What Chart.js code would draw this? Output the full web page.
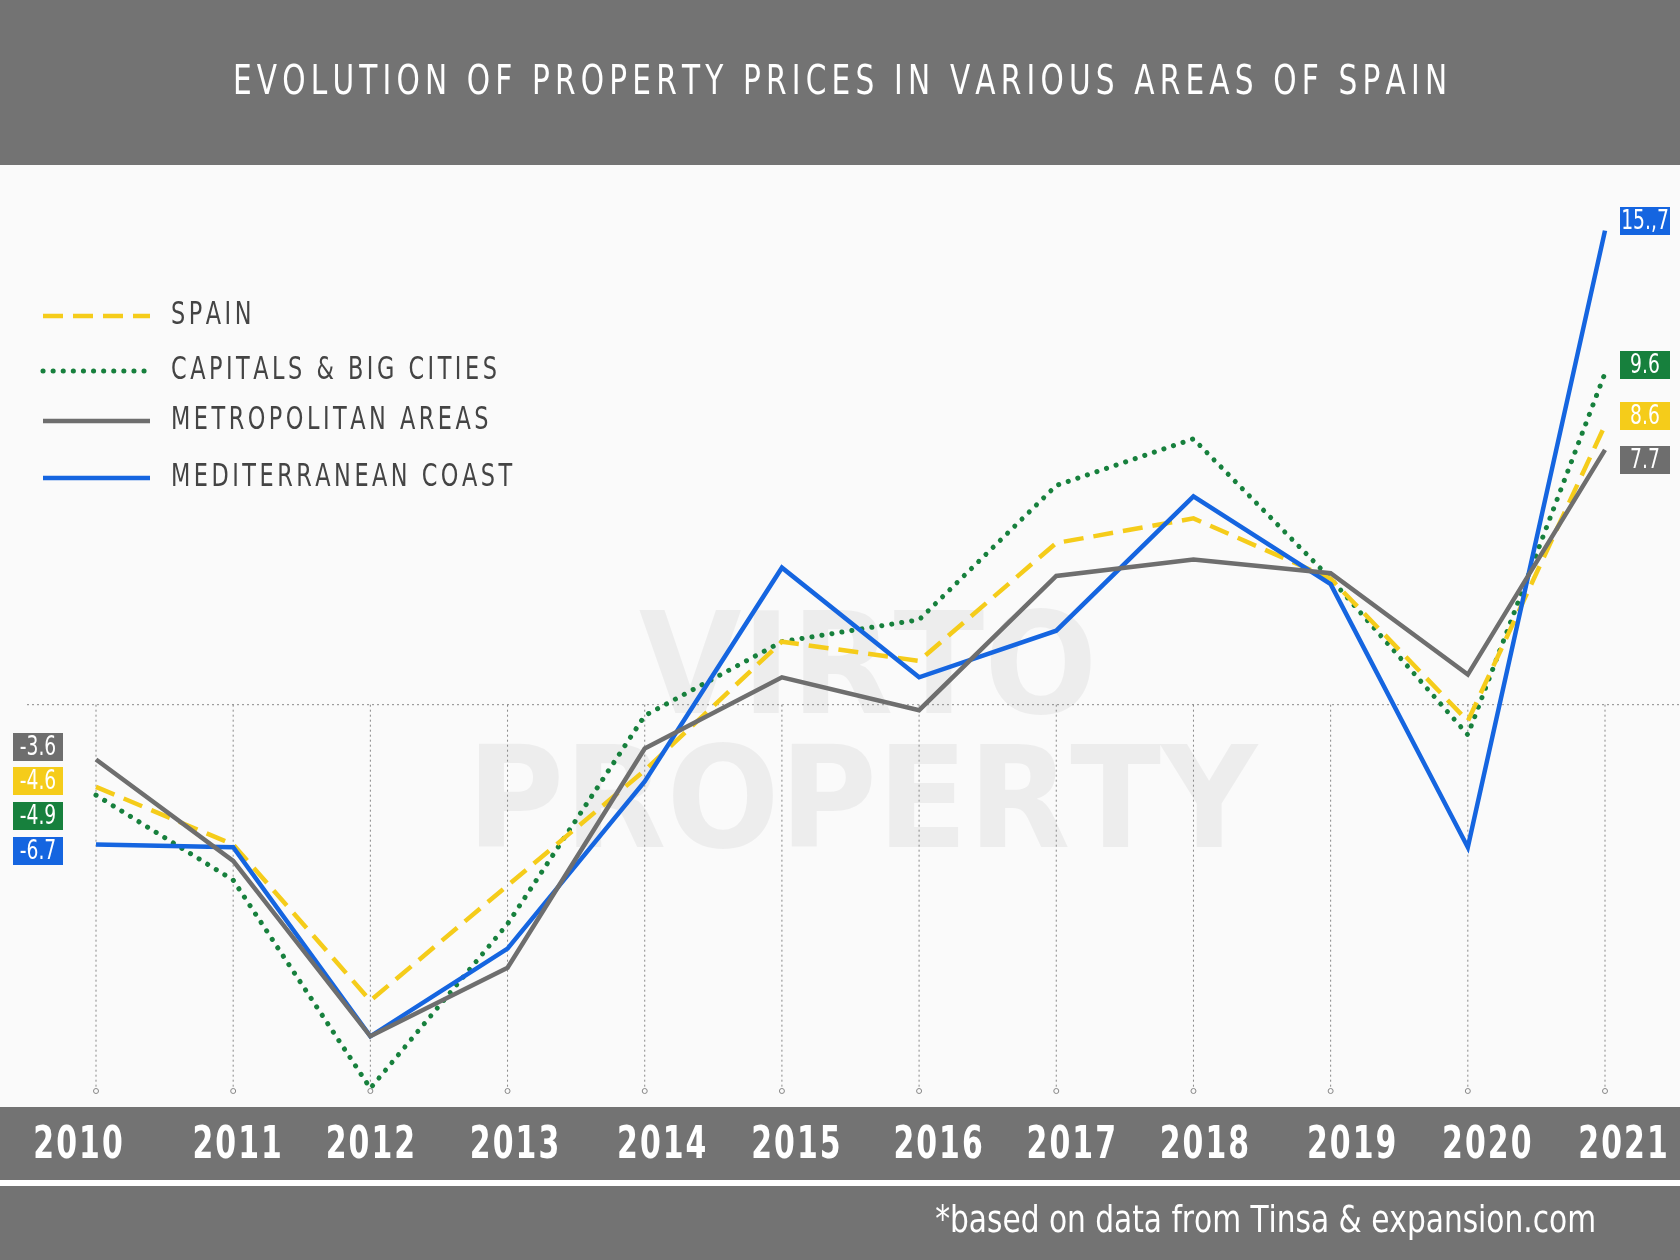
<!DOCTYPE html>
<html><head><meta charset="utf-8">
<script src="https://cdn.jsdelivr.net/npm/chart.js@4"></script>
<style>html,body{margin:0;padding:0;background:#fff}canvas{display:block}</style>
</head><body>
<div style="width:1680px;height:1260px;position:relative"><canvas id="c" width="1680" height="1260"></canvas></div>
<script>
const years = ['2010','2011','2012','2013','2014','2015','2016','2017','2018','2019','2020','2021'];
const spain = [-4.6,-6.7,-12.4,-8.2,-4.0,0.7,0.0,4.3,5.2,3.0,-2.2,8.6];
const capitals = [-4.9,-8.0,-15.6,-9.6,-2.0,0.7,1.5,6.4,8.1,3.0,-2.7,10.5];
const metro = [-3.6,-7.3,-13.7,-11.2,-3.2,-0.6,-1.8,3.1,3.7,3.2,-0.5,7.7];
const med = [-6.7,-6.8,-13.7,-10.5,-4.4,3.4,-0.6,1.1,6.0,2.8,-6.8,15.7];
const seriesNames = ['SPAIN','CAPITALS & BIG CITIES','METROPOLITAN AREAS','MEDITERRANEAN COAST'];
const startLabels = ['-4.6','-4.9','-3.6','-6.7'];
const endLabels = ['8.6','9.6','7.7','15.,7'];
const colors = ['#f5cc1a','#17803d','#6e6e6e','#1565e0'];
const title = 'EVOLUTION OF PROPERTY PRICES IN VARIOUS AREAS OF SPAIN';
const footer = '*based on data from Tinsa & expansion.com';
const FONT = '"DejaVu Sans",sans-serif';

function txt(ctx, text, x, y, sp, align, sx){
  let w = 0; for (const ch of text) w += ctx.measureText(ch).width + sp; w -= sp;
  const W = w*sx;
  let left = align==='center' ? x - W/2 : align==='right' ? x - W : x;
  ctx.save(); ctx.translate(left,y); ctx.scale(sx,1); ctx.textAlign='left';
  let cx=0; for (const ch of text){ ctx.fillText(ch, cx, 0); cx += ctx.measureText(ch).width + sp; }
  ctx.restore();
}

const deco = {
  id:'deco',
  beforeDraw(chart){
    const ctx = chart.ctx, xs = chart.scales.x, ys = chart.scales.y;
    ctx.save();
    ctx.fillStyle='#fafafa'; ctx.fillRect(0,0,1680,1260);
    ctx.fillStyle='#737373'; ctx.fillRect(0,0,1680,165);
    ctx.fillRect(0,1107,1680,73); ctx.fillRect(0,1186,1680,74);
    ctx.fillStyle='#ffffff'; ctx.fillRect(0,1180,1680,6);
    ctx.fillStyle='#ffffff'; ctx.font='40px '+FONT; ctx.textBaseline='middle';
    txt(ctx, title, 840, 84, 7, 'center', 0.74);
    ctx.font='38px '+FONT;
    txt(ctx, footer, 1596, 1222, 0, 'right', 0.78);
    ctx.font='bold 44px '+FONT;
    const yoff=[-18,4,0,7,17,14,19,15,11,21,19,18];
    years.forEach((y,i)=>{ txt(ctx, y, xs.getPixelForValue(i)+yoff[i], 1147, 3, 'center', 0.68); });
    ctx.fillStyle='rgba(0,0,0,0.05)'; ctx.font='bold 140px '+FONT;
    txt(ctx,'VIRTO', 868, 677,0,'center',0.95); txt(ctx,'PROPERTY', 862, 811,0,'center',0.95);
    ctx.strokeStyle='#888'; ctx.lineWidth=1; ctx.setLineDash([2,3]);
    const gy = ys.getPixelForValue(-1.6);
    ctx.beginPath(); ctx.moveTo(27,gy); ctx.lineTo(1680,gy); ctx.stroke();
    years.forEach((y,i)=>{ const x=xs.getPixelForValue(i);
      ctx.beginPath(); ctx.moveTo(x,gy); ctx.lineTo(x,1088); ctx.stroke(); });
    ctx.setLineDash([]);
    years.forEach((y,i)=>{ const x=xs.getPixelForValue(i);
      ctx.beginPath(); ctx.arc(x,1091,2.5,0,Math.PI*2); ctx.stroke(); });
    const ly=[316,371,421,478];
    seriesNames.forEach((n,k)=>{
      ctx.strokeStyle=colors[k]; ctx.lineWidth=k===1?5:4.5;
      ctx.lineCap=k===1?'round':'butt';
      ctx.setLineDash(k===0?[20,10]:k===1?[0.1,10]:[]);
      ctx.beginPath(); ctx.moveTo(43,ly[k]); ctx.lineTo(150,ly[k]); ctx.stroke();
      ctx.setLineDash([]);
      ctx.fillStyle='#444'; ctx.font='32px '+FONT; ctx.textBaseline='middle';
      txt(ctx, n, 171, ly[k], 5, 'left', 0.70);
    });
    ctx.restore();
  },
  afterDraw(chart){
    const ctx = chart.ctx;
    ctx.save();
    const leftOrder=[2,0,1,3], lyc=[747,781,816,851];
    ctx.font='26px '+FONT; ctx.textBaseline='middle';
    leftOrder.forEach((k,j)=>{
      ctx.fillStyle=colors[k]; ctx.fillRect(13,lyc[j]-14,50,28);
      ctx.fillStyle='#fff'; txt(ctx,startLabels[k],38,lyc[j]+1,0,'center',0.72);
    });
    const rightOrder=[3,1,0,2], ryc=[221,365,416,460];
    rightOrder.forEach((k,j)=>{
      ctx.fillStyle=colors[k]; ctx.fillRect(1620,ryc[j]-14,50,28);
      ctx.fillStyle='#fff'; txt(ctx,endLabels[k],1645,ryc[j]+1,0,'center',0.72);
    });
    ctx.restore();
  }
};

const mk=(data,k,dash,cap)=>({data,borderColor:colors[k],borderWidth:k===1?5:4.5,borderDash:dash,borderCapStyle:cap,pointRadius:0,tension:0,fill:false,clip:false});
new Chart(document.getElementById('c'),{
  type:'line',
  data:{labels:years,datasets:[
    mk(metro,2,[],'butt'),
    mk(med,3,[],'butt'),
    mk(spain,0,[20,10],'butt'),
    mk(capitals,1,[0.1,10],'round')
  ]},
  options:{responsive:false,animation:false,
    layout:{padding:{left:96,right:75,top:195,bottom:147}},
    plugins:{legend:{display:false},tooltip:{enabled:false}},
    scales:{x:{display:false,offset:false},y:{display:false,min:-16.5,max:17}}},
  plugins:[deco]
});
</script></body></html>
